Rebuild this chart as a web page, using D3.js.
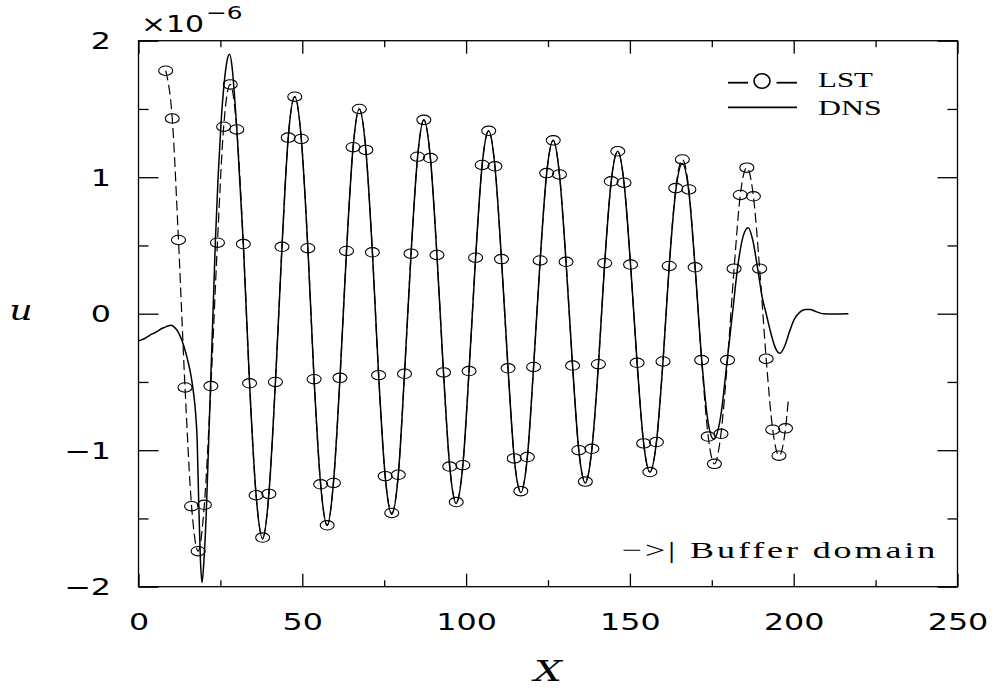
<!DOCTYPE html>
<html><head><meta charset="utf-8">
<script src="https://cdn.jsdelivr.net/npm/d3@7"></script>
<style>body{margin:0;background:#fff}svg{display:block}</style>
</head><body>
<svg id="c" width="996" height="692"></svg>
<script>
// ---- data ----
const xMajorTicks = [0, 50, 100, 150, 200, 250];
const xMinorTicks = [25, 75, 125, 175, 225];
const yMajorTicks = [-2, -1, 0, 1, 2];
const yMinorTicks = [-1.5, -0.5, 0.5, 1.5];
const seriesNames = ["LST", "DNS"];

// LST (linear stability theory), circles
const lstX = [8.3,10.3,12.2,14.2,16.2,18.2,20.1,22.1,24.1,26.0,
  28.0,30.0,32.0,33.9,35.9,37.9,39.8,41.8,43.8,45.7,
  47.7,49.7,51.7,53.6,55.6,57.6,59.5,61.5,63.5,65.5,
  67.4,69.4,71.4,73.3,75.3,77.3,79.3,81.2,83.2,85.2,
  87.1,89.1,91.1,93.1,95.0,97.0,99.0,100.9,102.9,104.9,
  106.9,108.8,110.8,112.8,114.7,116.7,118.7,120.6,122.6,124.6,
  126.6,128.5,130.5,132.5,134.4,136.4,138.4,140.4,142.3,144.3,
  146.3,148.2,150.2,152.2,154.2,156.1,158.1,160.1,162.0,164.0,
  166.0,168.0,169.9,171.9,173.9,175.8,177.8,179.8,181.8,183.7,
  185.7,187.7,189.6,191.6,193.6,195.5,197.5];
const lstU = [1.78,1.43,0.54,-0.54,-1.41,-1.74,-1.40,-0.53,0.52,1.37,
  1.68,1.35,0.51,-0.51,-1.33,-1.64,-1.32,-0.50,0.49,1.29,
  1.59,1.28,0.48,-0.48,-1.25,-1.55,-1.24,-0.47,0.46,1.22,
  1.50,1.20,0.45,-0.45,-1.19,-1.46,-1.18,-0.44,0.44,1.15,
  1.42,1.14,0.43,-0.43,-1.12,-1.38,-1.11,-0.42,0.41,1.09,
  1.34,1.08,0.40,-0.40,-1.06,-1.30,-1.05,-0.39,0.39,1.03,
  1.27,1.02,0.38,-0.38,-1.00,-1.23,-0.99,-0.37,0.37,0.97,
  1.19,0.96,0.36,-0.36,-0.95,-1.16,-0.94,-0.35,0.35,0.92,
  1.13,0.91,0.34,-0.34,-0.90,-1.10,-0.88,-0.34,0.33,0.87,
  1.07,0.86,0.33,-0.33,-0.85,-1.04,-0.84];
const lstEndX = 198.4, lstEndU = -0.62;   // dashed line ends here, no marker

// DNS, solid line
const dnsX = [0,1,2,3,4,5,6,7,8,9,10,11,12,13,14,15,16,16.8,17.4,17.9,
  18.4,18.9,19.4,20.0,20.7,21.4,22.1,22.8,23.5,24.3,25.2,26.2,27.0,27.8,28.6,29.3,
  30.0,32.0,33.9,35.9,37.9,39.8,41.8,43.8,45.7,47.7,49.7,51.7,53.6,55.6,57.6,59.5,
  61.5,63.5,65.5,67.4,69.4,71.4,73.3,75.3,77.3,79.3,81.2,83.2,85.2,87.1,89.1,91.1,
  93.1,95.0,97.0,99.0,100.9,102.9,104.9,106.9,108.8,110.8,112.8,114.7,116.7,118.7,
  120.6,122.6,124.6,126.6,128.5,130.5,132.5,134.4,136.4,138.4,140.4,142.3,144.3,
  146.3,148.2,150.2,152.2,154.2,156.1,158.1,160.1,162.0,164.0,166.0,168.0,169.9,
  171.9,173.9,175.6,177.8,179.7,181.3,183.0,184.6,186.1,187.5,189.0,190.4,191.6,
  193.0,194.4,195.8,197.2,198.6,200.2,201.8,203.5,205.0,206.8,209.0,212.0,216.7];
const dnsU = [-0.20,-0.19,-0.18,-0.165,-0.15,-0.14,-0.125,-0.11,-0.10,-0.09,-0.085,-0.10,-0.13,-0.18,-0.25,-0.34,-0.45,-0.58,-0.72,-0.92,
  -1.40,-1.80,-1.97,-1.80,-1.45,-0.95,-0.45,0.05,0.55,1.00,1.40,1.70,1.85,1.90,1.80,1.60,
  1.36,0.51,-0.51,-1.33,-1.65,-1.32,-0.50,0.49,1.29,1.59,1.28,0.48,-0.48,-1.25,-1.55,-1.24,
  -0.47,0.46,1.22,1.50,1.20,0.45,-0.45,-1.19,-1.47,-1.18,-0.44,0.44,1.15,1.42,1.14,0.43,
  -0.43,-1.12,-1.39,-1.11,-0.42,0.41,1.09,1.34,1.08,0.40,-0.40,-1.06,-1.31,-1.05,
  -0.39,0.39,1.03,1.27,1.02,0.38,-0.38,-1.00,-1.24,-0.99,-0.37,0.37,0.97,
  1.19,0.96,0.36,-0.36,-0.95,-1.16,-0.94,-0.35,0.35,0.90,1.10,0.89,0.34,
  -0.33,-0.80,-0.92,-0.74,-0.34,0.00,0.36,0.57,0.63,0.54,0.33,0.12,0.00,
  -0.14,-0.25,-0.29,-0.24,-0.14,-0.04,0.01,0.03,0.03,0.015,0.00,-0.002,0.00];

// ---- drawing ----
const svg = d3.select("#c");
const x = d3.scaleLinear().domain([0, 250]).range([138.5, 957.5]);
const y = d3.scaleLinear().domain([-2, 2]).range([586.7, 40.7]);
const FONT = "DejaVu Sans";
const SERIF = "Liberation Serif";

function styleAxis(g){
  g.select(".domain").remove();
  g.selectAll(".tick line").attr("stroke","#000").attr("stroke-width",1.3);
}
// bottom
const gb = svg.append("g").attr("transform",`translate(0,${y(-2)})`)
  .call(d3.axisBottom(x).tickValues(xMajorTicks).tickSize(-13).tickFormat(d3.format("d")));
styleAxis(gb);
gb.selectAll(".tick text").attr("y",43.3).attr("dy",0).attr("transform","scale(1.38,1)")
  .attr("font-family",FONT).attr("font-size",23).attr("fill","#000");
svg.append("g").attr("transform",`translate(0,${y(-2)})`)
  .call(d3.axisBottom(x).tickValues(xMinorTicks).tickSize(-6.5).tickFormat("")).call(styleAxis);
// top
svg.append("g").attr("transform",`translate(0,${y(2)})`)
  .call(d3.axisTop(x).tickValues(xMajorTicks).tickSize(-13).tickFormat("")).call(styleAxis);
svg.append("g").attr("transform",`translate(0,${y(2)})`)
  .call(d3.axisTop(x).tickValues(xMinorTicks).tickSize(-6.5).tickFormat("")).call(styleAxis);
// left
const gl = svg.append("g").attr("transform",`translate(${x(0)},0)`)
  .call(d3.axisLeft(y).tickValues(yMajorTicks).tickSize(-20).tickFormat(d3.format("d")));
styleAxis(gl);
gl.selectAll(".tick text").attr("x",0).attr("dy","0.36em")
  .attr("transform","translate(-27.5,0) scale(1.38,1)")
  .attr("font-family",FONT).attr("font-size",23).attr("fill","#000");
svg.append("g").attr("transform",`translate(${x(0)},0)`)
  .call(d3.axisLeft(y).tickValues(yMinorTicks).tickSize(-10).tickFormat("")).call(styleAxis);
// right
svg.append("g").attr("transform",`translate(${x(250)},0)`)
  .call(d3.axisRight(y).tickValues(yMajorTicks).tickSize(-20).tickFormat("")).call(styleAxis);
svg.append("g").attr("transform",`translate(${x(250)},0)`)
  .call(d3.axisRight(y).tickValues(yMinorTicks).tickSize(-10).tickFormat("")).call(styleAxis);
// frame
svg.append("rect").attr("x",x(0)).attr("y",y(2)).attr("width",x(250)-x(0)).attr("height",y(-2)-y(2))
  .attr("fill","none").attr("stroke","#000").attr("stroke-width",1.3);

// DNS line
const dns = d3.zip(dnsX, dnsU);
const line = d3.line().x(d=>x(d[0])).y(d=>y(d[1])).curve(d3.curveMonotoneX);
svg.append("path").datum(dns).attr("d",line).attr("fill","none")
  .attr("stroke","#000").attr("stroke-width",1.5);

// LST dashed line + markers
const lst = d3.zip(lstX, lstU);
const lstLine = lst.concat([[lstEndX, lstEndU]]);
svg.append("path").datum(lstLine).attr("d",line).attr("fill","none")
  .attr("stroke","#000").attr("stroke-width",1.2).attr("stroke-dasharray","10,4.5");
svg.append("g").selectAll("ellipse").data(lst).join("ellipse")
  .attr("cx",d=>x(d[0])).attr("cy",d=>y(d[1])).attr("rx",7).attr("ry",4.7)
  .attr("fill","none").attr("stroke","#000").attr("stroke-width",1.1);

// exponent label
svg.append("text").attr("transform","translate(141,32) scale(1.3,1)")
  .attr("font-family",FONT).attr("font-size",23).text("×10");
svg.append("text").attr("transform","translate(206,18.5) scale(1.38,1)")
  .attr("font-family",FONT).attr("font-size",18).text("−6");

// axis titles
svg.append("text").attr("transform","translate(21,320) scale(1.3,1)").attr("text-anchor","middle")
  .attr("font-family","DejaVu Serif").attr("font-style","italic").attr("font-size",28).text("u");
svg.append("text").attr("transform","translate(548,681) scale(1.4,1)").attr("text-anchor","middle")
  .attr("font-family","DejaVu Serif").attr("font-style","italic").attr("font-size",28).text("X");

// legend
const lg = svg.append("g");
lg.append("line").attr("x1",728).attr("x2",748).attr("y1",82.7).attr("y2",82.7).attr("stroke","#000").attr("stroke-width",1.8);
lg.append("ellipse").attr("cx",762).attr("cy",81).attr("rx",8).attr("ry",7.3).attr("fill","none").attr("stroke","#000").attr("stroke-width",1.6);
lg.append("line").attr("x1",776.5).attr("x2",797).attr("y1",82.7).attr("y2",82.7).attr("stroke","#000").attr("stroke-width",1.8);
lg.append("line").attr("x1",728).attr("x2",797).attr("y1",107.3).attr("y2",107.3).attr("stroke","#000").attr("stroke-width",1.8);
lg.append("text").attr("transform","translate(818,86.7) scale(1.25,1)")
  .attr("font-family",SERIF).attr("font-size",22).attr("textLength",44).attr("lengthAdjust","spacingAndGlyphs")
  .text(seriesNames[0]);
lg.append("text").attr("transform","translate(818,115) scale(1.25,1)")
  .attr("font-family",SERIF).attr("font-size",22).attr("textLength",51).attr("lengthAdjust","spacingAndGlyphs")
  .text(seriesNames[1]);

// buffer annotation
svg.append("text").attr("transform","translate(621.7,558.3) scale(1.5,1)")
  .attr("font-family",SERIF).attr("font-size",24).attr("xml:space","preserve")
  .attr("textLength",209).attr("lengthAdjust","spacing")
  .text("−>| Buffer domain");
</script>
</body></html>
